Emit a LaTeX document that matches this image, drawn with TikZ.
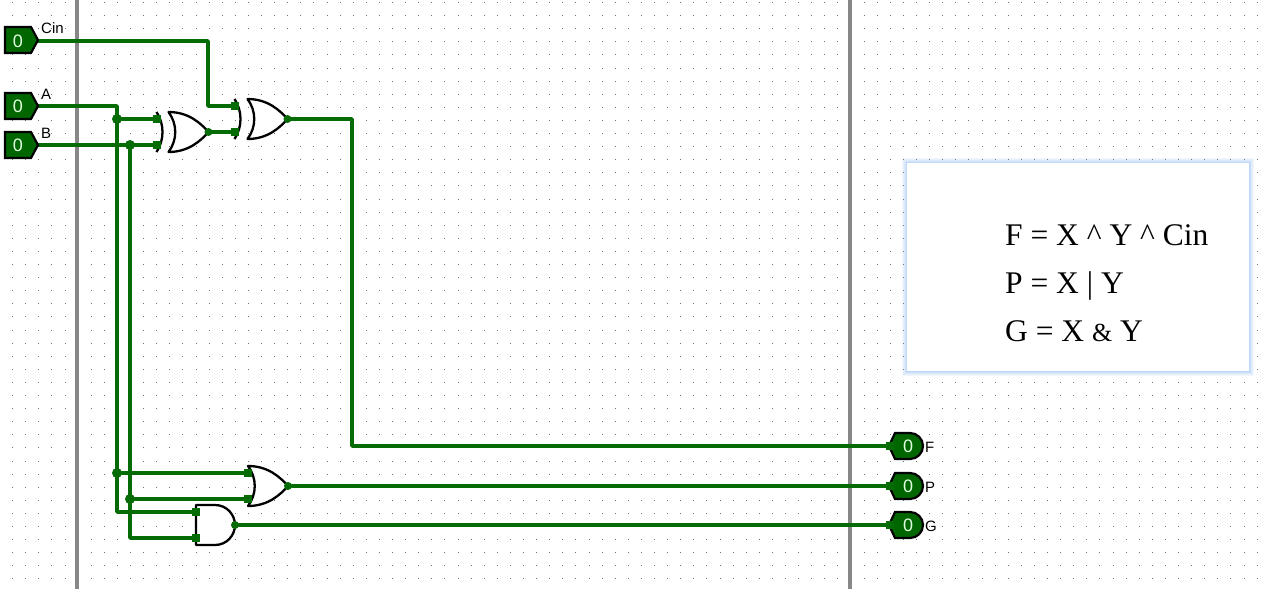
\documentclass[tikz,border=0pt]{standalone}
\usepackage{fontspec}
\setmainfont{Liberation Serif}
\setsansfont{Liberation Sans}
\definecolor{wireColor}{RGB}{5,107,5}
\definecolor{pinColor}{RGB}{0,102,0}
\definecolor{barColor}{RGB}{135,135,135}
\definecolor{glowColor}{RGB}{120,175,250}
\tikzset{
  wire/.style={draw=wireColor,line width=3.6pt,line join=round,line cap=round},
  gateline/.style={draw=black,line width=2.3pt,line join=round,fill=white},
  pinbox/.style={draw=black,line width=2.2pt,line join=miter,fill=pinColor},
  pinval/.style={text=green!12!white,font=\sffamily\fontsize{18}{18}\selectfont,inner sep=0pt},
  pinname/.style={text=black,font=\sffamily\fontsize{15}{15}\selectfont,inner sep=0pt},
  port/.style={fill=wireColor,minimum size=8pt,inner sep=0pt,outer sep=0pt},
  joint/.style={circle,fill=wireColor,minimum size=10pt,inner sep=0pt,outer sep=0pt},
  endpt/.style={circle,fill=wireColor,minimum size=8pt,inner sep=0pt,outer sep=0pt},
  eqn/.style={anchor=base west,inner sep=0pt,font=\fontsize{31.5}{31.5}\selectfont},
  orgate/.pic={
    \path[gateline] (0,-20) .. controls (20,-20) and (32,-9) .. (40,0)
      .. controls (32,9) and (20,20) .. (0,20)
      .. controls (9,8) and (9,-8) .. (0,-20) -- cycle;
    \coordinate (-out) at (40,0);
  },
  xorbar/.pic={
    \draw[draw=black,line width=2.3pt] (0,-20) .. controls (8,-8) and (8,8) .. (0,20);
  },
  andgate/.pic={
    \path[gateline] (0,-20) -- (19,-20) .. controls (31,-20) and (39,-10) .. (39,0)
      .. controls (39,10) and (31,20) .. (19,20) -- (0,20) -- cycle;
    \coordinate (-out) at (39,0);
  },
  inpin/.pic={
    \path[pinbox] (-33,-13) -- (-7,-13) -- (0,0) -- (-7,13) -- (-33,13) -- cycle;
  },
  outpin/.pic={
    \path[pinbox] (0,0) -- (6,-13) -- (21,-13) arc (-90:90:13) -- (6,13) -- cycle;
  }
}
\begin{document}
\begin{tikzpicture}[x=1pt,y=-1pt]
\path[use as bounding box,fill=white] (0,0) rectangle (1264,589);
\foreach \i in {0,...,97}{
  \foreach \j in {0,...,45}{
    \fill[black!55] ({round(-1+13.1*\i)},{round(2+13.1*\j)}) rectangle ++(1,1);
  }
}
\draw[barColor,line width=4pt] (77,0) -- (77,589);
\draw[barColor,line width=4pt] (850,0) -- (850,589);

\coordinate (pinCin) at (38,41);
\coordinate (pinA) at (38,106);
\coordinate (pinB) at (38,145);
\coordinate (pinFin) at (890,446);
\coordinate (pinPin) at (890,486);
\coordinate (pinGin) at (890,525);
\coordinate (railA) at (117,106);
\coordinate (railB) at (130,145);
\coordinate (bendCin) at (208,41);
\coordinate (bendF) at (352,119);

\pic (xorOne) at (168.5,132) {orgate};
\pic at (156.5,132) {xorbar};
\pic (xorTwo) at (247.5,119) {orgate};
\pic at (234.5,119) {xorbar};
\pic (orLow) at (248,486) {orgate};
\pic (andLow) at (196,525) {andgate};

\node[port] (xorOneA) at (157,119) {};
\node[port] (xorOneB) at (157,145) {};
\node[port] (xorTwoA) at (235,106) {};
\node[port] (xorTwoB) at (235,132) {};
\node[port] (orLowA) at (248,473) {};
\node[port] (orLowB) at (248,499) {};
\node[port] (andLowA) at (196,512) {};
\node[port] (andLowB) at (196,538) {};
\node[joint] (jointAone) at (117,119) {};
\node[joint] (jointBone) at (130,145) {};
\node[joint] (jointAtwo) at (117,473) {};
\node[joint] (jointBtwo) at (130,499) {};
\node[endpt] (outXorOne) at (xorOne-out) {};
\node[endpt] (outXorTwo) at (xorTwo-out) {};
\node[endpt] (outOrLow) at (orLow-out) {};
\node[endpt] (outAndLow) at (andLow-out) {};

\draw[wire] (pinCin) -- (bendCin) |- (xorTwoA);
\draw[wire] (outXorOne) -- (xorTwoB);
\draw[wire] (pinA) -- (railA) |- (andLowA);
\draw[wire] (pinB) -- (xorOneB);
\draw[wire] (jointBone) |- (andLowB);
\draw[wire] (jointAone) -- (xorOneA);
\draw[wire] (jointAtwo) -- (orLowA);
\draw[wire] (jointBtwo) -- (orLowB);
\draw[wire] (outXorTwo) -- (bendF) |- (pinFin);
\draw[wire] (outOrLow) -- (pinPin);
\draw[wire] (outAndLow) -- (pinGin);

\pic at (38,40) {inpin};
\pic at (38,106) {inpin};
\pic at (38,145) {inpin};
\pic at (889,446) {outpin};
\pic at (889,486) {outpin};
\pic at (889,525) {outpin};
\node[port] (portF) at (890,446) {};
\node[port] (portP) at (890,486) {};
\node[port] (portG) at (890,525) {};

\node[pinval] (valCin) at (18,41) {0};
\node[pinval] (valA) at (18,106) {0};
\node[pinval] (valB) at (18,145) {0};
\node[pinval] (valF) at (908,446) {0};
\node[pinval] (valP) at (908,486) {0};
\node[pinval] (valG) at (908,525) {0};
\node[pinname,anchor=base west] (nameCin) at (41,33) {Cin};
\node[pinname,anchor=base west] (nameA) at (41,99) {A};
\node[pinname,anchor=base west] (nameB) at (41,138) {B};
\node[pinname,anchor=base west] (nameF) at (925,452) {F};
\node[pinname,anchor=base west] (nameP) at (925,492) {P};
\node[pinname,anchor=base west] (nameG) at (925,531) {G};

\foreach \g in {5,4,3,2.2,1.5,1,0.5}{
  \fill[glowColor,opacity=0.09] ({907-\g},{163-\g}) rectangle ({1249+\g},{371+\g});
}
\fill[white] (907,163) rectangle (1249,371);
\node[eqn] (eqnF) at (1005,245) {F = X \^{} Y \^{} Cin};
\node[eqn] (eqnP) at (1005,293) {P = X | Y};
\node[eqn] (eqnG) at (1005,341) {G = X {\fontsize{26}{26}\selectfont\&} Y};
\end{tikzpicture}
\end{document}
